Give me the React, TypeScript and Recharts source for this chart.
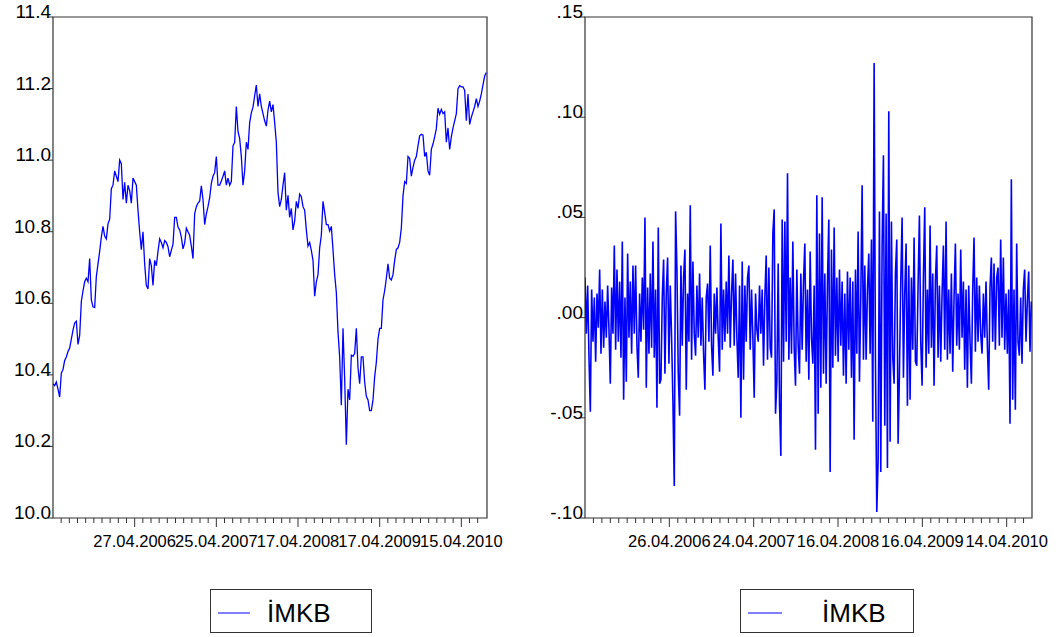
import React from 'react';
import { LineChart, Line, XAxis, YAxis, ReferenceArea } from 'recharts';

const FONT = '"Liberation Sans", Arial, Helvetica, sans-serif';
const BLUE = '#0000ff';
const FRAME = '#333333';

const imkbLevel: number[] = [
  10.375, 10.370, 10.380, 10.360, 10.338, 10.405, 10.415, 10.440, 10.450, 10.465,
  10.475, 10.500, 10.525, 10.545, 10.550, 10.485, 10.510, 10.605, 10.635, 10.660,
  10.670, 10.660, 10.725, 10.610, 10.590, 10.588, 10.675, 10.710, 10.745, 10.785,
  10.815, 10.788, 10.780, 10.822, 10.835, 10.920, 10.930, 10.970, 10.955, 10.940,
  11.000, 10.990, 10.890, 10.938, 10.880, 10.930, 10.915, 10.880, 10.950, 10.940,
  10.930, 10.860, 10.800, 10.750, 10.800, 10.710, 10.650, 10.640, 10.725, 10.705,
  10.650, 10.720, 10.705, 10.745, 10.780, 10.770, 10.755, 10.775, 10.770, 10.758,
  10.730, 10.748, 10.765, 10.840, 10.840, 10.813, 10.805, 10.785, 10.752, 10.768,
  10.810, 10.800, 10.790, 10.760, 10.725, 10.850, 10.870, 10.880, 10.885, 10.928,
  10.890, 10.820, 10.850, 10.870, 10.895, 10.935, 10.955, 10.965, 11.010, 10.930,
  10.930, 10.942, 10.955, 10.970, 10.930, 10.950, 10.930, 10.940, 11.040, 11.050,
  11.150, 11.080, 11.060, 11.010, 10.930, 10.970, 11.050, 11.030, 11.105, 11.132,
  11.148, 11.180, 11.210, 11.150, 11.185, 11.150, 11.130, 11.110, 11.095, 11.140,
  11.165, 11.135, 11.155, 11.105, 11.050, 10.910, 10.870, 10.890, 10.930, 10.965,
  10.860, 10.902, 10.840, 10.865, 10.805, 10.830, 10.885, 10.865, 10.905, 10.898,
  10.870, 10.860, 10.805, 10.760, 10.770, 10.748, 10.720, 10.620, 10.660, 10.680,
  10.755, 10.790, 10.885, 10.855, 10.820, 10.820, 10.802, 10.815, 10.750, 10.680,
  10.630, 10.520, 10.450, 10.315, 10.530, 10.390, 10.205, 10.360, 10.330, 10.455,
  10.452, 10.460, 10.530, 10.420, 10.375, 10.450, 10.450, 10.380, 10.340, 10.330,
  10.300, 10.300, 10.330, 10.395, 10.435, 10.500, 10.530, 10.530, 10.610, 10.635,
  10.670, 10.710, 10.670, 10.665, 10.680, 10.720, 10.750, 10.755, 10.770, 10.810,
  10.900, 10.940, 10.935, 11.010, 11.005, 10.955, 10.980, 11.000, 11.010, 11.040,
  11.068, 11.072, 11.070, 11.010, 11.022, 10.970, 10.958, 11.030, 11.045, 11.065,
  11.088, 11.145, 11.128, 11.142, 11.130, 11.135, 11.050, 11.090, 11.030, 11.065,
  11.090, 11.110, 11.130, 11.200, 11.208, 11.205, 11.205, 11.195, 11.110, 11.185,
  11.100, 11.120, 11.135, 11.150, 11.172, 11.150, 11.165, 11.185, 11.210, 11.235,
  11.245,
];

// İMKB daily return, in thousandths
const imkbReturnMilli: number[] = [
  20, -8, 16, -20, -47, 14, -12, 10, -22, 12,
  -5, 24, -18, 14, -15, 8, -10, 16, -6, -33,
  15, -8, 36, -16, 24, -12, 18, -20, 38, -41,
  10, -32, 32, -10, 18, -18, 26, -8, 26, -14,
  -30, 12, -12, 20, -6, 50, -35, 15, -18, 22,
  -15, 38, -20, 14, -45, 45, -33, -31, 10, 29,
  -28, 12, 30, -23, 16, -10, -42, -84, 53, 24,
  -28, -49, 26, -14, 20, 34, -36, 12, -12, 56,
  -21, 28, -8, -19, 16, -10, 22, -14, 10, -18,
  -36, 10, 17, -12, 36, -14, -29, 12, -8, 15,
  -10, -27, 47, -16, 14, -12, 18, -8, 31, -15,
  12, 29, -14, 22, -10, -30, 16, -50, 28, -31,
  16, -12, 20, 26, -16, 14, -10, -40, 12, -6,
  -12, 16, -8, 14, -24, 10, 31, -21, 25, -15,
  -20, 42, 54, -48, -32, 27, -43, -69, 49, -22,
  48, -12, 72, -21, 20, -18, 38, -15, -34, 24,
  -14, -28, 22, -16, 18, 37, -22, 14, -31, 33,
  -10, -23, 16, -66, 61, -48, 42, -35, 60, -28,
  22, -33, 18, 49, -77, 34, -25, 45, -19, 20,
  -22, 24, -14, 18, -29, 12, -33, 23, -16, 20,
  -30, 18, -61, 24, -18, 43, -32, 10, 66, -21,
  26, -21, 14, 32, -18, 39, -52, 127, -21, -97,
  -71, 53, -77, 36, 81, -54, 52, -75, 103, -62,
  48, -20, -33, 22, 39, -63, -28, 18, 50, -30,
  12, 37, -44, 26, -41, 20, -16, 40, -22, -24,
  16, 51, -12, -34, 20, 55, -25, 14, -18, 46,
  -15, 22, -34, 18, 36, -20, 16, -22, 12, 36,
  -16, 48, -21, 14, -18, 22, -27, 10, 37, -14,
  12, -16, 34, -10, 18, -26, 14, -35, 16, -12,
  -33, 14, 40, -17, 20, -12, 16, -8, -18, 12,
  -10, 18, -14, -36, 15, 30, -12, 27, -16, 20,
  25, -14, 39, -10, 30, -16, 12, -18, 14, -53,
  69, -41, 14, -46, 37, -12, -19, 10, -23, 14,
  24, -12, 8, 23, -17, 8,
];

const levelDateLabels = ['27.04.2006', '25.04.2007', '17.04.2008', '17.04.2009', '15.04.2010'];
const returnDateLabels = ['26.04.2006', '24.04.2007', '16.04.2008', '16.04.2009', '14.04.2010'];
const levelYTicks = [10.0, 10.2, 10.4, 10.6, 10.8, 11.0, 11.2, 11.4];
const returnYTicks = [-0.1, -0.05, 0, 0.05, 0.1, 0.15];
const seriesName = 'İMKB';

// x axis: observation index; ticks every few observations, a labelled one every 10th
const LEVEL_X_MAX = 260.4;
const RETURN_X_MAX = 335.5;
const LEVEL_TICK_STEP = 4.9;
const RETURN_TICK_STEP = 6.33;
const TICK_COUNT = 52;

const levelData = imkbLevel.map((v, i) => ({ i, v }));
const returnData = imkbReturnMilli.map((v, i) => ({ i, v: v / 1000 }));

function makeTicks(step: number): number[] {
  const ticks: number[] = [];
  for (let k = 1; k <= TICK_COUNT; k++) ticks.push(+(k * step).toFixed(3));
  return ticks;
}

function dateTick(step: number, labels: string[]) {
  return (props: any) => {
    const { x, y, payload } = props;
    const k = Math.round(payload.value / step);
    const major = k % 10 === 0;
    const label = major ? labels[k / 10 - 1] : undefined;
    return (
      <g>
        <line x1={x} x2={x} y1={y} y2={y + (major ? 9 : 5)} stroke={FRAME} strokeWidth={1} />
        {label && (
          <text x={x} y={y + 29} textAnchor="middle" fontSize={16.5} fontFamily={FONT} fill="#000">
            {label}
          </text>
        )}
      </g>
    );
  };
}

function valueTick(fmt: (v: number) => string) {
  return (props: any) => {
    const { x, y, payload } = props;
    return (
      <g>
        <line x1={x - 5} x2={x} y1={y} y2={y} stroke={FRAME} strokeWidth={1} />
        <text x={x - 2} y={y + 1} textAnchor="end" fontSize={19} fontFamily={FONT} fill="#000">
          {fmt(payload.value)}
        </text>
      </g>
    );
  };
}

const fmtLevel = (v: number) => v.toFixed(1);
const fmtReturn = (v: number) => v.toFixed(2).replace('0.', '.');

function LegendBox({ left, width, lineLeft, lineWidth, textLeft }: {
  left: number; width: number; lineLeft: number; lineWidth: number; textLeft: number;
}) {
  return (
    <svg style={{ position: 'absolute', left, top: 589 }} width={width} height={45}>
      <rect x={0.5} y={0.5} width={width - 1} height={43} fill="#fff" stroke={FRAME} strokeWidth={1} />
      <line x1={lineLeft} x2={lineLeft + lineWidth} y1={24} y2={24} stroke={BLUE} strokeWidth={1} />
      <text x={textLeft} y={33} fontSize={26} fontFamily={FONT} fill="#000">{seriesName}</text>
    </svg>
  );
}

export default function App() {
  return (
    <div style={{ position: 'absolute', left: 0, top: 0, width: 1059, height: 637, background: '#fff' }}>
      <div style={{ position: 'absolute', left: 0, top: 0 }}>
        <LineChart width={530} height={637} data={levelData} margin={{ top: 17, right: 43, bottom: 79, left: 0 }}>
          <XAxis
            dataKey="i"
            type="number"
            domain={[0, LEVEL_X_MAX]}
            ticks={makeTicks(LEVEL_TICK_STEP)}
            interval={0}
            height={40}
            tickSize={0}
            tickMargin={0}
            tickLine={false}
            axisLine={false}
            tick={dateTick(LEVEL_TICK_STEP, levelDateLabels)}
            allowDataOverflow
          />
          <YAxis
            type="number"
            domain={[10, 11.4]}
            ticks={levelYTicks}
            interval={0}
            width={53}
            tickSize={0}
            tickMargin={0}
            tickLine={false}
            axisLine={false}
            tick={valueTick(fmtLevel)}
            allowDataOverflow
          />
          <ReferenceArea x1={0} x2={LEVEL_X_MAX} y1={10} y2={11.4} fill="none" stroke={FRAME} strokeWidth={1.2} ifOverflow="visible" />
          <Line type="linear" dataKey="v" name={seriesName} stroke={BLUE} strokeWidth={1.3} dot={false} isAnimationActive={false} />
        </LineChart>
      </div>
      <div style={{ position: 'absolute', left: 530, top: 0 }}>
        <LineChart width={529} height={637} data={returnData} margin={{ top: 17, right: 27, bottom: 79, left: 0 }}>
          <XAxis
            dataKey="i"
            type="number"
            domain={[0, RETURN_X_MAX]}
            ticks={makeTicks(RETURN_TICK_STEP)}
            interval={0}
            height={40}
            tickSize={0}
            tickMargin={0}
            tickLine={false}
            axisLine={false}
            tick={dateTick(RETURN_TICK_STEP, returnDateLabels)}
            allowDataOverflow
          />
          <YAxis
            type="number"
            domain={[-0.1, 0.15]}
            ticks={returnYTicks}
            interval={0}
            width={55}
            tickSize={0}
            tickMargin={0}
            tickLine={false}
            axisLine={false}
            tick={valueTick(fmtReturn)}
            allowDataOverflow
          />
          <ReferenceArea x1={0} x2={RETURN_X_MAX} y1={-0.1} y2={0.15} fill="none" stroke={FRAME} strokeWidth={1.2} ifOverflow="visible" />
          <Line type="linear" dataKey="v" name={seriesName} stroke={BLUE} strokeWidth={1.6} dot={false} isAnimationActive={false} />
        </LineChart>
      </div>
      <LegendBox left={210} width={162} lineLeft={8} lineWidth={32} textLeft={57} />
      <LegendBox left={740} width={174} lineLeft={8} lineWidth={34} textLeft={82} />
    </div>
  );
}
